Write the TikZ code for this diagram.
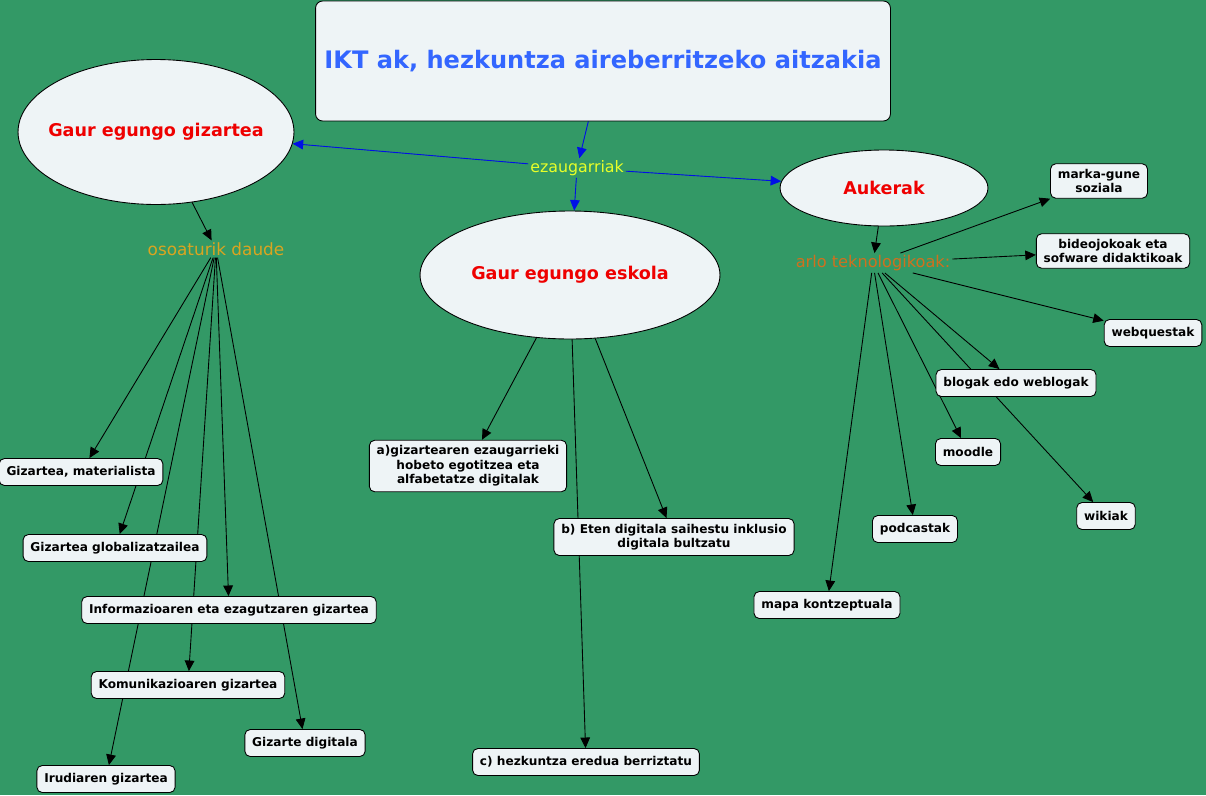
\documentclass[tikz,border=0pt]{standalone}
\usepackage{fontspec}
\setmainfont{DejaVu Sans}
\usetikzlibrary{shapes.geometric,arrows.meta}
\definecolor{mapgreen}{RGB}{51,153,102}
\definecolor{boxfill}{RGB}{238,244,246}
\definecolor{titleblue}{RGB}{51,102,255}
\definecolor{conceptred}{RGB}{238,0,0}
\definecolor{linkyellow}{RGB}{232,255,40}
\definecolor{linkgold}{RGB}{218,165,32}
\definecolor{linkorange}{RGB}{208,112,30}
\definecolor{arrowblue}{RGB}{0,15,230}
\pgfdeclarelayer{bg}
\pgfdeclarelayer{links}
\pgfsetlayers{bg,links,main}

\begin{document}
\begin{tikzpicture}[x=0.02cm, y=-0.02cm,
    concept/.style={ellipse, draw=black, line width=0.5pt, fill=boxfill, inner sep=0pt,
        text=conceptred, font=\bfseries\fontsize{10}{12}\selectfont},
    item/.style={rectangle, rounded corners=3pt, draw=black, line width=0.5pt, fill=boxfill,
        align=center, inner xsep=4.2pt, inner ysep=3pt, minimum height=0.54cm,
        font=\bfseries\fontsize{6.9}{8.3}\selectfont},
    link/.style={inner sep=1pt},
    arr/.style={-{Triangle[length=6pt,width=5.5pt]}, line width=0.5pt},
    bluearr/.style={arr, draw=arrowblue, fill=arrowblue}]

\begin{pgfonlayer}{bg}
    \fill[mapgreen] (0,0) rectangle (1206,795);
\end{pgfonlayer}
\path[use as bounding box] (0,0) rectangle (1206,795);

% main concepts
\node[rectangle, rounded corners=4pt, draw=black, line width=0.5pt, fill=boxfill,
    minimum width=11.5cm, minimum height=2.4cm, text=titleblue,
    font=\bfseries\fontsize{13.7}{16}\selectfont] (title) at (603,61) {IKT ak, hezkuntza aireberritzeko aitzakia};
\node[link, text=linkyellow, font=\fontsize{9}{11}\selectfont] (ezaug) at (577,168) {ezaugarriak};
\node[concept, minimum width=5.52cm, minimum height=2.9cm] (gizartea) at (156,132) {\makebox[0pt]{Gaur egungo gizartea}};
\node[concept, minimum width=6cm, minimum height=2.56cm] (eskola) at (570,275) {\makebox[0pt]{Gaur egungo eskola}};
\node[concept, minimum width=4.16cm, minimum height=1.52cm] (aukerak) at (884,188) {\makebox[0pt]{Aukerak}};

% gizartea
\node[link, text=linkgold, font=\fontsize{9.6}{11}\selectfont] (osoa) at (216,249) {osoaturik daude};
\node[item] (materialista) at (81,472) {Gizartea, materialista};
\node[item] (global) at (115,548) {Gizartea globalizatzailea};
\node[item] (informazio) at (229,610) {Informazioaren eta ezagutzaren gizartea};
\node[item] (komunikazio) at (188,685) {Komunikazioaren gizartea};
\node[item] (digitala) at (305,743) {Gizarte digitala};
\node[item] (irudi) at (106,779) {Irudiaren gizartea};

% eskola
\node[item] (aitem) at (468,466) {a)gizartearen ezaugarrieki\\hobeto egotitzea eta\\alfabetatze digitalak};
\node[item] (bitem) at (674,537) {b) Eten digitala saihestu inklusio\\digitala bultzatu};
\node[item] (citem) at (586,762) {c) hezkuntza eredua berriztatu};

% aukerak
\node[link, text=linkorange, font=\fontsize{9.2}{11}\selectfont] (arlo) at (873,263) {arlo teknologikoak:};
\node[item] (marka) at (1099,181) {marka-gune\\soziala};
\node[item] (bideo) at (1113,251) {bideojokoak eta\\sofware didaktikoak};
\node[item] (webquest) at (1153,333) {webquestak};
\node[item] (blogak) at (1016,383) {blogak edo weblogak};
\node[item] (moodle) at (968,452) {moodle};
\node[item] (wikiak) at (1106,516) {wikiak};
\node[item] (podcast) at (915,529) {podcastak};
\node[item] (mapa) at (827,605) {mapa kontzeptuala};

\begin{pgfonlayer}{links}
    \draw[bluearr] (title) -- (ezaug);
    \draw[bluearr] (ezaug) -- (gizartea);
    \draw[bluearr] (ezaug) -- (eskola);
    \draw[bluearr] (ezaug) -- (aukerak);

    \draw[arr] (gizartea) -- (osoa);
    \foreach \target in {materialista,global,informazio,komunikazio,digitala,irudi}
        \draw[arr] (osoa) -- (\target);

    \draw[arr] (eskola) -- (aitem);
    \draw[arr] (eskola) -- (bitem);
    \draw[arr] (eskola) -- (citem);

    \draw[arr] (aukerak) -- (arlo);
    \foreach \target in {marka,bideo,webquest,blogak,moodle,wikiak,podcast,mapa}
        \draw[arr] (arlo) -- (\target);
\end{pgfonlayer}
\end{tikzpicture}
\end{document}
